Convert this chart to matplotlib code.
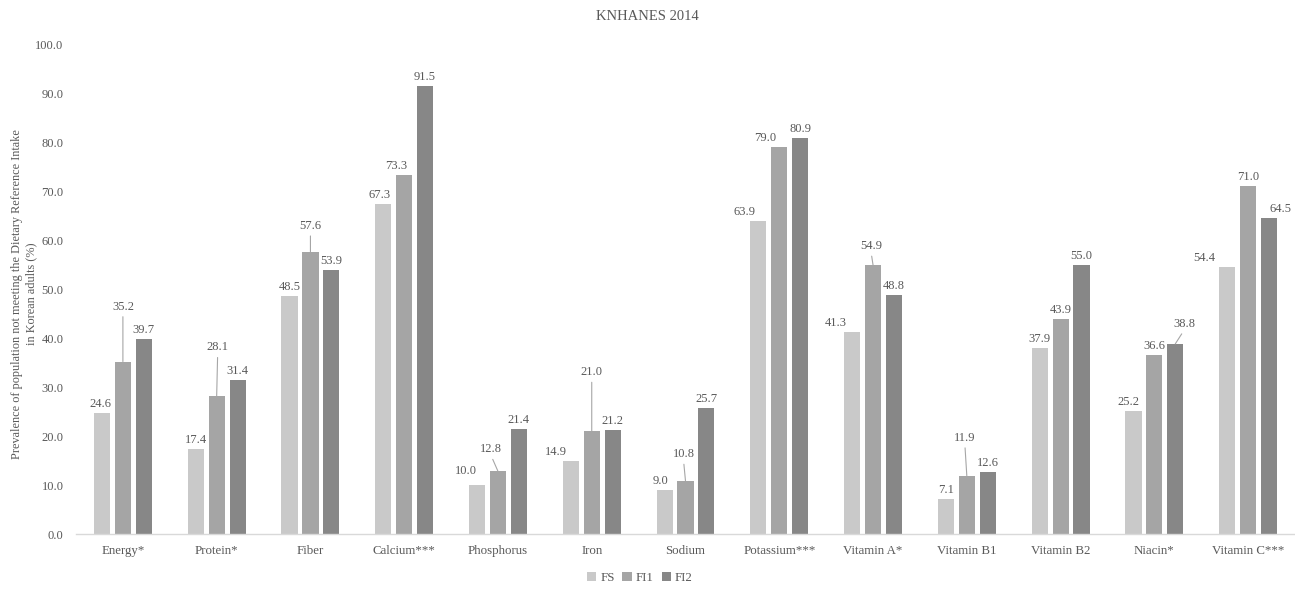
import matplotlib
matplotlib.use("Agg")
import matplotlib.pyplot as plt
import numpy as np

categories = ["Energy*", "Protein*", "Fiber", "Calcium***", "Phosphorus", "Iron", "Sodium",
              "Potassium***", "Vitamin A*", "Vitamin B1", "Vitamin B2", "Niacin*", "Vitamin C***"]
series_names = ["FS", "FI1", "FI2"]
fs = [24.6, 17.4, 48.5, 67.3, 10.0, 14.9, 9.0, 63.9, 41.3, 7.1, 37.9, 25.2, 54.4]
fi1 = [35.2, 28.1, 57.6, 73.3, 12.8, 21.0, 10.8, 79.0, 54.9, 11.9, 43.9, 36.6, 71.0]
fi2 = [39.7, 31.4, 53.9, 91.5, 21.4, 21.2, 25.7, 80.9, 48.8, 12.6, 55.0, 38.8, 64.5]
title = "KNHANES 2014"
ylabel = "Prevalence of population not meeting the Dietary Reference Intake\nin Korean adults (%)"

colors = ["#c9c9c9", "#a5a5a5", "#878787"]
text_color = "#595959"
font = ["Liberation Serif", "DejaVu Serif"]
plt.rcParams['font.family'] = font

# label offsets in pixels (series index, category index) -> (dx, dy, leader)
label_offsets = {
    (0, 0): (-2, 0, False),
    (1, 0): (0, 46, True),
    (1, 1): (1, 40, True),
    (1, 2): (0, 17, True),
    (0, 3): (-4, 0, False),
    (1, 3): (-8, 0, False),
    (0, 4): (-11, 5, False),
    (1, 4): (-7, 13, True),
    (0, 5): (-15, 0, False),
    (1, 5): (0, 50, True),
    (0, 6): (-4, 0, False),
    (1, 6): (-2, 18, True),
    (0, 7): (-14, 0, False),
    (1, 7): (-14, 0, False),
    (0, 8): (-16, 0, False),
    (1, 8): (-2, 10, True),
    (1, 9): (-2, 29, True),
    (0, 11): (-5, 0, False),
    (2, 11): (9, 11, True),
    (0, 12): (-23, 0, False),
    (2, 12): (11, 0, False),
}

fs_text = 9
fig = plt.figure(figsize=(12.95, 5.91), dpi=100)
ax = fig.add_axes([0.0587, 0.0964, 0.9413, 0.8291])

x = np.arange(len(categories))
step = 0.223
width = 0.172
all_series = [fs, fi1, fi2]
for si, (vals, name, col) in enumerate(zip(all_series, series_names, colors)):
    xs = x + (si - 1) * step
    ax.bar(xs, vals, width=width, color=col, label=name, zorder=2)
    for ci, (xx, v) in enumerate(zip(xs, vals)):
        dx, dy, leader = label_offsets.get((si, ci), (0, 0, False))
        kw = {}
        if leader:
            kw["arrowprops"] = dict(arrowstyle="-", color="#a6a6a6", lw=0.8,
                                    shrinkA=1, shrinkB=0, relpos=(0.5, 0.0))
        ax.annotate(f"{v:.1f}", xy=(xx, v), xytext=(dx, 3 + dy),
                    textcoords="offset pixels", ha="center", va="bottom",
                    fontsize=fs_text, color=text_color, **kw)

ax.set_xlim(-0.5, len(categories) - 0.5)
ax.set_ylim(0, 100)
ax.set_yticks(np.arange(0, 101, 10))
ax.set_yticklabels([f"{t:.1f}" for t in np.arange(0, 101, 10)], fontsize=fs_text, color=text_color)
ax.set_xticks(x)
ax.set_xticklabels(categories, fontsize=9.3, color=text_color)
ax.tick_params(axis="both", length=0)
ax.tick_params(axis="x", pad=8)
ax.tick_params(axis="y", pad=9)
for s in ["top", "right", "left"]:
    ax.spines[s].set_visible(False)
ax.spines["bottom"].set_color("#d9d9d9")
ax.spines["bottom"].set_linewidth(1.0)

ax.set_ylabel(ylabel, fontsize=8.8, color=text_color, linespacing=1.25)
ax.yaxis.label.set_verticalalignment("center")
ax.yaxis.set_label_coords(-0.0425, 0.49)
fig.text(0.5, 0.972, title, ha="center", va="center", fontsize=10.5, color=text_color)

leg = fig.legend(loc="center", bbox_to_anchor=(0.494, 0.022), ncol=3, frameon=False,
                 fontsize=9.3, handlelength=0.75, handleheight=0.75, handletextpad=0.3,
                 columnspacing=0.6, labelcolor=text_color)

fig.savefig("out.png", dpi=100)
